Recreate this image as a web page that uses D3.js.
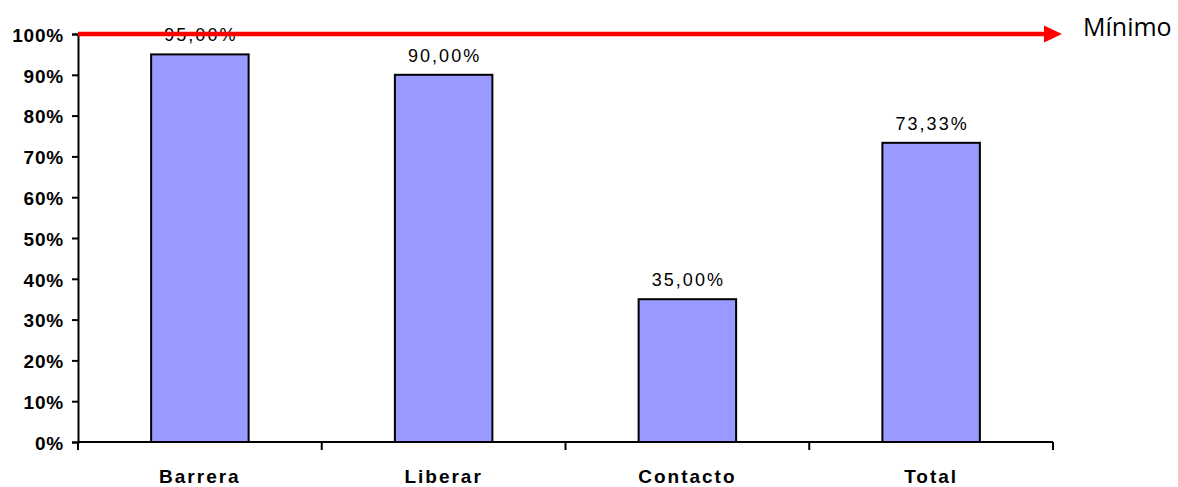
<!DOCTYPE html>
<html><head><meta charset="utf-8">
<script src="https://cdn.jsdelivr.net/npm/d3@7"></script>
<style>body{margin:0;background:#fff}svg{display:block}</style>
</head><body>
<svg id="c" width="1178" height="487"></svg>
<script>
const categories = ["Barrera", "Liberar", "Contacto", "Total"];
const values = [95.00, 90.00, 35.00, 73.33];
const yTicks = [0, 10, 20, 30, 40, 50, 60, 70, 80, 90, 100];
const minimumValue = 100;
const minimumLabel = "Mínimo";

(function () {
const svg = d3.select("#c");
const mLeft = 78, mRight = 1053, mTop = 34, mBottom = 442;
const x = d3.scaleBand().domain(categories).range([mLeft, mRight]).paddingInner(0).paddingOuter(0);
const y = d3.scaleLinear().domain([0, 100]).range([mBottom, mTop]);
const barW = x.bandwidth() * 0.4;
const font = "Liberation Sans, Arial, sans-serif";

// bars
svg.append("g").selectAll("rect").data(values).join("rect")
  .attr("x", (d, i) => x(categories[i]) + (x.bandwidth() - barW) / 2)
  .attr("y", d => y(d))
  .attr("width", barW)
  .attr("height", d => y(0) - y(d))
  .attr("fill", "#9999ff").attr("stroke", "#000").attr("stroke-width", 2);

// value labels
svg.append("g").selectAll("text").data(values).join("text")
  .attr("x", (d, i) => x(categories[i]) + x.bandwidth() / 2 + 1)
  .attr("y", d => y(d) - 13)
  .attr("text-anchor", "middle")
  .attr("font-family", font)
  .attr("font-size", 18).attr("letter-spacing", 2).attr("fill", "#000")
  .text(d => d.toFixed(2).replace(".", ",") + "%");

// y axis
const ya = svg.append("g").attr("transform", `translate(${mLeft},0)`)
  .call(d3.axisLeft(y).tickValues(yTicks).tickSize(6).tickFormat(d => d + "%"));
ya.select(".domain").attr("stroke", "#000").attr("stroke-width", 2);
ya.selectAll(".tick line").attr("stroke", "#000").attr("stroke-width", 2);
ya.selectAll(".tick text").attr("font-family", font)
  .attr("font-size", 19).attr("font-weight", "bold").attr("letter-spacing", 0.8)
  .attr("fill", "#000").attr("x", -14).attr("dy", "0.38em");

// x axis
const xa = svg.append("g").attr("transform", `translate(0,${mBottom})`);
xa.append("line").attr("x1", mLeft).attr("x2", mRight).attr("y1", 0).attr("y2", 0)
  .attr("stroke", "#000").attr("stroke-width", 2);
const bounds = categories.map(c => x(c)).concat([mRight]);
xa.selectAll("line.t").data(bounds).join("line").attr("class", "t")
  .attr("x1", d => d).attr("x2", d => d).attr("y1", 0).attr("y2", 8)
  .attr("stroke", "#000").attr("stroke-width", 2);
xa.selectAll("text").data(categories).join("text")
  .attr("x", d => x(d) + x.bandwidth() / 2).attr("y", 41)
  .attr("text-anchor", "middle")
  .attr("font-family", font)
  .attr("font-size", 19).attr("font-weight", "bold").attr("letter-spacing", 2).attr("fill", "#000")
  .text(d => d);

// minimum arrow line
const ym = y(minimumValue);
svg.append("line").attr("x1", mLeft).attr("x2", 1048).attr("y1", ym).attr("y2", ym)
  .attr("stroke", "#ff0000").attr("stroke-width", 4.5);
svg.append("path")
  .attr("d", `M1044,${ym - 8.5} L1062,${ym} L1044,${ym + 8.5} Z`)
  .attr("fill", "#ff0000");
svg.append("text").attr("x", 1083).attr("y", 36)
  .attr("font-family", "Open Sans, Noto Sans, sans-serif")
  .attr("font-size", 25).attr("fill", "#000")
  .text(minimumLabel);
})();
</script>
</body></html>
